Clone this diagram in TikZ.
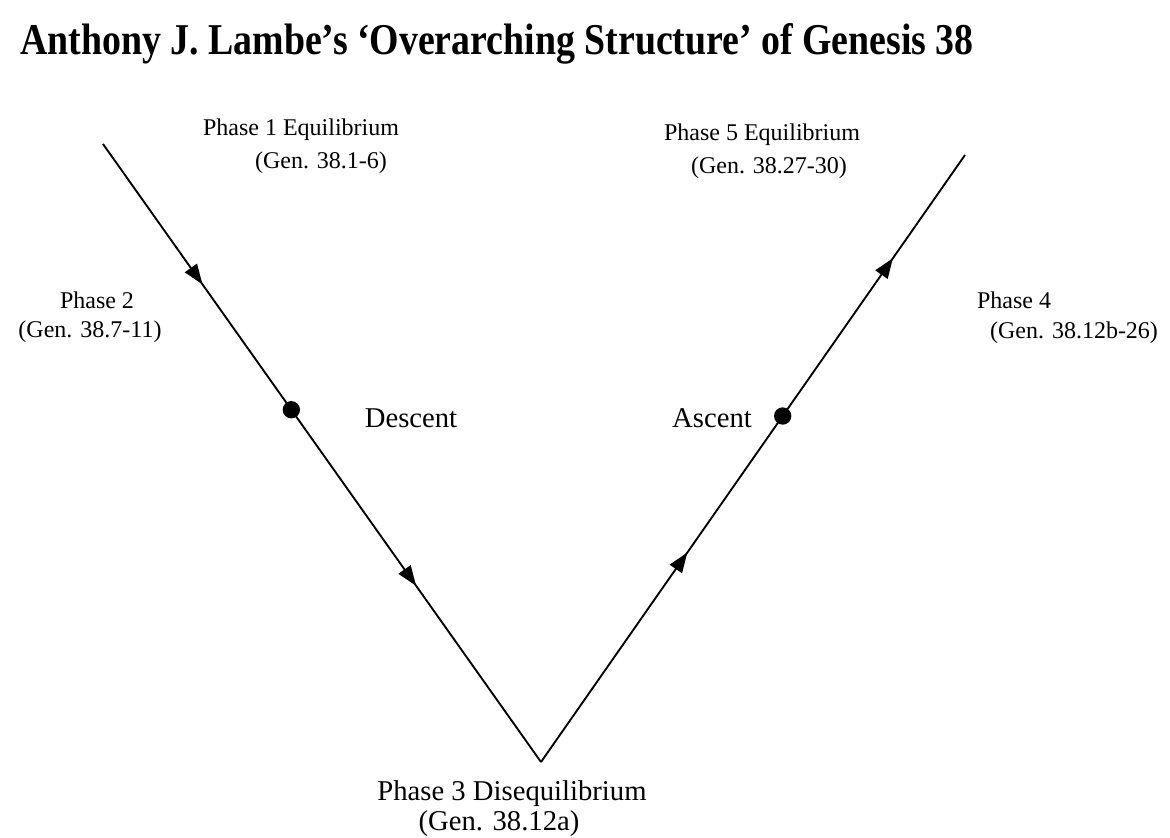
\documentclass[tikz,border=0pt]{standalone}
\usepackage{fontspec}
\setmainfont{Liberation Serif}
\usetikzlibrary{arrows.meta,decorations.markings,calc}

\tikzset{
  phase/.style={font=\fontsize{18}{21}\selectfont, inner sep=0pt},
  bigphase/.style={font=\fontsize{21.5}{25}\selectfont, inner sep=0pt},
  heading/.style={font=\fontsize{33}{38}\selectfont\bfseries, inner sep=0pt, xscale=0.86},
  spot/.style={circle, fill=black, minimum size=13pt, inner sep=0pt},
  flow/.style 2 args={decoration={markings,
      mark=at position #1 with {\arrow{Triangle[length=15pt,width=11pt]}},
      mark=at position #2 with {\arrow{Triangle[length=15pt,width=11pt]}}},
    postaction={decorate}, line width=1.4pt}
}

\begin{document}
\begin{tikzpicture}[x=0.75pt,y=-0.75pt]
  \useasboundingbox (0,0) rectangle (1170,838);

  \node[heading] (title) at (497,44) {Anthony J. Lambe’s ‘Overarching Structure’ of Genesis 38};

  \coordinate (start) at (103,144);
  \coordinate (low) at (541,762);
  \coordinate (finish) at (965,155);

  \draw[flow={0.227}{0.715}] (start) -- (low);
  \draw[flow={0.345}{0.83}] (low) -- (finish);

  \node[spot] (descentdot) at ($(start)!0.43!(low)$) {};
  \node[spot] (ascentdot) at ($(low)!0.57!(finish)$) {};

  % labels
  \node[phase] (p1) at (301,130) {Phase 1 Equilibrium};
  \node[phase] (p1ref) at (321,163) {(Gen. 38.1-6)};
  \node[phase] (p2) at (97,300) {Phase 2};
  \node[phase] (p2ref) at (90,332) {(Gen. 38.7-11)};
  \node[bigphase] (descent) at (411,418) {Descent};
  \node[bigphase] (p3) at (512,794) {Phase 3 Disequilibrium};
  \node[bigphase] (p3ref) at (499,824) {(Gen. 38.12a)};
  \node[bigphase] (ascent) at (712,418) {Ascent};
  \node[phase] (p4) at (1014,300) {Phase 4};
  \node[phase] (p4ref) at (1074,333) {(Gen. 38.12b-26)};
  \node[phase] (p5) at (762,135) {Phase 5 Equilibrium};
  \node[phase] (p5ref) at (769,168) {(Gen. 38.27-30)};
\end{tikzpicture}
\end{document}
